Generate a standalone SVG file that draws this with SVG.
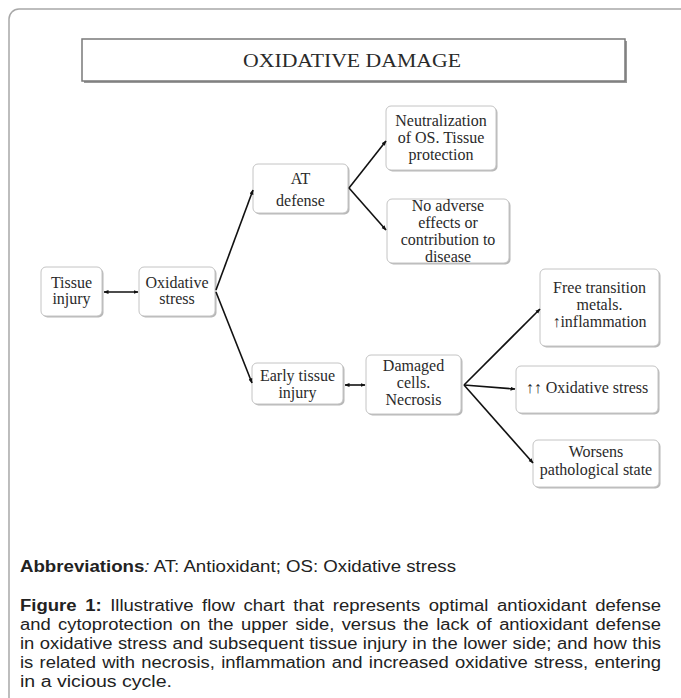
<svg xmlns="http://www.w3.org/2000/svg" width="681" height="698" viewBox="0 0 681 698">
<style>
.frame{fill:#fff;stroke:#a8a8a8;stroke-width:1.5}
.box{fill:#fff;stroke:#c4c4c4;stroke-width:1}
.shd{fill:#b8b8b8}
.t{font-family:"Liberation Serif","Times New Roman",serif;font-size:16px;fill:#2a2a2a;text-anchor:middle}
.ttl{font-family:"Liberation Serif","Times New Roman",serif;font-size:19px;fill:#2a2a2a}
.c{stroke:#111;stroke-width:1.6;fill:none}
.cap{font-family:"Liberation Sans",Arial,sans-serif;font-size:16px;fill:#222}
.b{font-weight:bold}
</style>
<defs>
<marker id="ah" viewBox="0 0 10 10" refX="9" refY="5" markerWidth="5" markerHeight="5" orient="auto-start-reverse" markerUnits="userSpaceOnUse">
<path d="M0,1 L10,5 L0,9 z" fill="#111"/>
</marker>
</defs>
<rect class="frame" x="9" y="9" width="700" height="720" rx="10"/>

<g id="title">
<rect x="84" y="41" width="543" height="42" fill="#999"/>
<rect x="82" y="39" width="543" height="42" fill="#fff" stroke="#7a7a7a" stroke-width="1.5"/>
<text class="ttl" x="243" y="67" textLength="218" lengthAdjust="spacingAndGlyphs">OXIDATIVE DAMAGE</text>
</g>

<g id="n-tissue-injury">
<rect class="shd" x="42.5" y="268.5" width="61" height="49" rx="5"/>
<rect class="box" x="41" y="267" width="61" height="49" rx="5"/>
<text class="t" x="71.5" y="288">Tissue</text>
<text class="t" x="71.5" y="304">injury</text>
</g>

<g id="n-oxidative-stress">
<rect class="shd" x="140.5" y="268.5" width="76" height="49" rx="5"/>
<rect class="box" x="139" y="267" width="76" height="49" rx="5"/>
<text class="t" x="177" y="288">Oxidative</text>
<text class="t" x="177" y="304">stress</text>
</g>

<g id="n-at-defense">
<rect class="shd" x="254.5" y="165.5" width="95" height="49" rx="5"/>
<rect class="box" x="253" y="164" width="95" height="49" rx="5"/>
<text class="t" x="300.5" y="184">AT</text>
<text class="t" x="300.5" y="206">defense</text>
</g>

<g id="n-neutralization">
<rect class="shd" x="387.5" y="107.5" width="110" height="64" rx="5"/>
<rect class="box" x="386" y="106" width="110" height="64" rx="5"/>
<text class="t" x="441" y="126">Neutralization</text>
<text class="t" x="441" y="143">of OS. Tissue</text>
<text class="t" x="441" y="160">protection</text>
</g>

<g id="n-no-adverse">
<rect class="shd" x="388.5" y="200.5" width="122" height="64" rx="5"/>
<rect class="box" x="387" y="199" width="122" height="64" rx="5"/>
<text class="t" x="448" y="211">No adverse</text>
<text class="t" x="448" y="228">effects or</text>
<text class="t" x="448" y="245">contribution to</text>
<text class="t" x="448" y="262">disease</text>
</g>

<g id="n-early-tissue-injury">
<rect class="shd" x="253.5" y="364.5" width="91" height="41" rx="5"/>
<rect class="box" x="252" y="363" width="91" height="41" rx="5"/>
<text class="t" x="297.5" y="381">Early tissue</text>
<text class="t" x="297.5" y="398">injury</text>
</g>

<g id="n-damaged-cells">
<rect class="shd" x="367.5" y="356.5" width="95" height="59" rx="5"/>
<rect class="box" x="366" y="355" width="95" height="59" rx="5"/>
<text class="t" x="413.5" y="371">Damaged</text>
<text class="t" x="413.5" y="388">cells.</text>
<text class="t" x="413.5" y="405">Necrosis</text>
</g>

<g id="n-free-transition">
<rect class="shd" x="541.5" y="270.5" width="119" height="77" rx="5"/>
<rect class="box" x="540" y="269" width="119" height="77" rx="5"/>
<text class="t" x="599.5" y="293">Free transition</text>
<text class="t" x="599.5" y="310">metals.</text>
<text class="t" x="599.5" y="327">↑inflammation</text>
</g>

<g id="n-oxidative-stress-2">
<rect class="shd" x="517.5" y="367.5" width="142" height="47" rx="5"/>
<rect class="box" x="516" y="366" width="142" height="47" rx="5"/>
<text class="t" x="587" y="393">↑↑ Oxidative stress</text>
</g>

<g id="n-worsens">
<rect class="shd" x="534.5" y="441.5" width="126" height="47" rx="5"/>
<rect class="box" x="533" y="440" width="126" height="47" rx="5"/>
<text class="t" x="596" y="457">Worsens</text>
<text class="t" x="596" y="475">pathological state</text>
</g>

<g id="connectors">
<line class="c" x1="104" y1="292" x2="138" y2="292" marker-start="url(#ah)" marker-end="url(#ah)"/>
<line class="c" x1="216" y1="290" x2="253" y2="190" marker-end="url(#ah)"/>
<line class="c" x1="216" y1="292" x2="252" y2="383" marker-end="url(#ah)"/>
<line class="c" x1="349" y1="188" x2="386" y2="141" marker-end="url(#ah)"/>
<line class="c" x1="349" y1="188" x2="386" y2="230" marker-end="url(#ah)"/>
<line class="c" x1="345" y1="385" x2="365" y2="385" marker-start="url(#ah)" marker-end="url(#ah)"/>
<line class="c" x1="464" y1="385" x2="540" y2="309" marker-end="url(#ah)"/>
<line class="c" x1="464" y1="385" x2="515" y2="389" marker-end="url(#ah)"/>
<line class="c" x1="464" y1="385" x2="533" y2="463" marker-end="url(#ah)"/>
</g>

<g id="caption">
<text class="cap" x="20" y="572" textLength="436" lengthAdjust="spacingAndGlyphs"><tspan class="b">Abbreviations</tspan><tspan font-style="italic">:</tspan> AT: Antioxidant; OS: Oxidative stress</text>
<text class="cap" x="20" y="611" textLength="641" lengthAdjust="spacingAndGlyphs" word-spacing="3"><tspan class="b">Figure 1:</tspan> Illustrative flow chart that represents optimal antioxidant defense</text>
<text class="cap" x="20" y="630" textLength="641" lengthAdjust="spacingAndGlyphs" word-spacing="2">and cytoprotection on the upper side, versus the lack of antioxidant defense</text>
<text class="cap" x="20" y="649" textLength="641" lengthAdjust="spacingAndGlyphs" word-spacing="0.3">in oxidative stress and subsequent tissue injury in the lower side; and how this</text>
<text class="cap" x="20" y="668" textLength="641" lengthAdjust="spacingAndGlyphs" word-spacing="1">is related with necrosis, inflammation and increased oxidative stress, entering</text>
<text class="cap" x="20" y="687" textLength="152" lengthAdjust="spacingAndGlyphs">in a vicious cycle.</text>
</g>
</svg>
